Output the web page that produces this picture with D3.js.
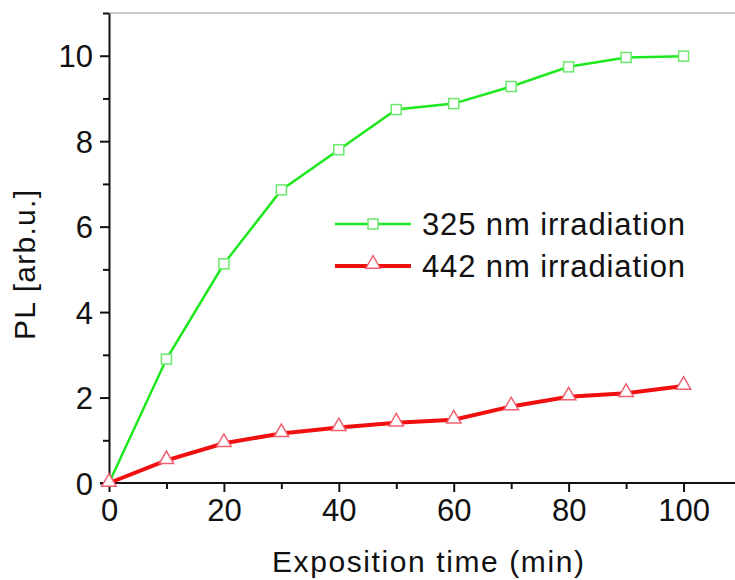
<!DOCTYPE html>
<html lang="en">
<head>
    <meta charset="UTF-8">
    <title>PL vs exposition time</title>
    <script src="https://d3js.org/d3.v7.min.js"></script>
    <style>
        body { margin: 0; background: #fff; }
        text { font-family: "Liberation Sans", Arial, sans-serif; fill: #111; }
        .axis path, .axis line { stroke: #111; stroke-width: 2; }
    </style>
</head>
<body>
    <svg width="735" height="580"></svg>

    <script>
        // data
        const times = [0, 10, 20, 30, 40, 50, 60, 70, 80, 90, 100];
        const pl325 = [0, 2.9, 5.13, 6.86, 7.8, 8.74, 8.88, 9.28, 9.74, 9.96, 9.99];
        const pl442 = [0, 0.53, 0.93, 1.16, 1.3, 1.41, 1.48, 1.79, 2.02, 2.1, 2.27];
        const xTicks = [0, 20, 40, 60, 80, 100];
        const yTicks = [0, 2, 4, 6, 8, 10];
        const seriesNames = ["325 nm irradiation", "442 nm irradiation"];

        const svg = d3.select("svg");
        const margin = {top: 13, right: 0, bottom: 97, left: 109};
        const width = 741 - margin.left;
        const height = +svg.attr("height") - margin.top - margin.bottom;

        const x = d3.scaleLinear().domain([0, 110]).range([0, width]);
        const y = d3.scaleLinear().domain([0, 11]).range([height, 0]);

        const g = svg.append("g")
            .attr("transform", `translate(${margin.left},${margin.top})`);

        // gray frame line on top
        g.append("line")
            .attr("x1", 0).attr("x2", width)
            .attr("y1", 0).attr("y2", 0)
            .attr("stroke", "#c8c8c8").attr("stroke-width", 2);

        // minor ticks
        const xMinor = d3.range(10, 111, 20);
        const yMinor = d3.range(1, 12, 2);
        g.append("g").attr("class", "axis")
            .attr("transform", `translate(0,${height})`)
            .call(d3.axisBottom(x).tickValues(xMinor).tickSize(6).tickFormat(""))
            .call(s => s.select(".domain").remove());
        g.append("g").attr("class", "axis")
            .call(d3.axisLeft(y).tickValues(yMinor).tickSize(6).tickFormat(""))
            .call(s => s.select(".domain").remove());

        // major axes
        const xAxis = g.append("g").attr("class", "axis")
            .attr("transform", `translate(0,${height})`)
            .call(d3.axisBottom(x).tickValues(xTicks).tickSize(9).tickSizeOuter(0).tickPadding(7));
        const yAxis = g.append("g").attr("class", "axis")
            .call(d3.axisLeft(y).tickValues(yTicks).tickSize(9).tickSizeOuter(0).tickPadding(7));
        xAxis.selectAll("text").style("font-size", "31px").attr("fill", "#111");
        yAxis.selectAll("text").style("font-size", "31px").attr("fill", "#111").attr("dy", "0.36em");
        xAxis.select(".domain").attr("d", `M${-9},0H${width}`);

        const line = d3.line().x((d, i) => x(times[i])).y(d => y(d));

        // 325 nm series
        g.append("path").datum(pl325)
            .attr("d", line)
            .attr("fill", "none").attr("stroke", "#1ee81e").attr("stroke-width", 2.5);
        g.selectAll(".sq").data(pl325.slice(1)).enter().append("rect")
            .attr("class", "sq")
            .attr("x", (d, i) => x(times[i + 1]) - 5)
            .attr("y", d => y(d) - 5)
            .attr("width", 10).attr("height", 10)
            .attr("fill", "#fff").attr("stroke", "#6be86b").attr("stroke-width", 1.5);

        // 442 nm series
        const tri = d3.symbol().type(d3.symbolTriangle).size(90);
        g.append("path").datum(pl442)
            .attr("d", line)
            .attr("fill", "none").attr("stroke", "#f01010").attr("stroke-width", 4);
        g.selectAll(".tri").data(pl442).enter().append("path")
            .attr("class", "tri")
            .attr("d", tri)
            .attr("transform", (d, i) => `translate(${x(times[i])},${y(d) - 1})`)
            .attr("fill", "#fff").attr("stroke", "#f06070").attr("stroke-width", 1.5);

        // axis titles
        svg.append("text")
            .attr("x", 428).attr("y", 572)
            .attr("text-anchor", "middle")
            .style("font-size", "30px")
            .attr("textLength", 312)
            .text("Exposition time (min)");
        svg.append("text")
            .attr("transform", "translate(35,265) rotate(-90)")
            .attr("text-anchor", "middle")
            .style("font-size", "30px")
            .attr("textLength", 150)
            .text("PL [arb.u.]");

        // legend
        const legend = svg.append("g").attr("transform", "translate(335,224)");
        const legendRows = [
            {name: seriesNames[0], color: "#1ee81e", mk: "#6be86b", w: 2.5, sym: "sq"},
            {name: seriesNames[1], color: "#f01010", mk: "#f06070", w: 4, sym: "tri"}
        ];
        legendRows.forEach((r, i) => {
            const row = legend.append("g").attr("transform", `translate(0,${i * 42})`);
            row.append("line").attr("x1", 0).attr("x2", 76)
                .attr("stroke", r.color).attr("stroke-width", r.w);
            if (r.sym === "sq") {
                row.append("rect").attr("x", 33).attr("y", -5).attr("width", 10).attr("height", 10)
                    .attr("fill", "#fff").attr("stroke", r.mk).attr("stroke-width", 1.5);
            } else {
                row.append("path").attr("d", tri).attr("transform", "translate(38,-2)")
                    .attr("fill", "#fff").attr("stroke", r.mk).attr("stroke-width", 1.5);
            }
            row.append("text").attr("x", 87).attr("y", 11)
                .style("font-size", "31px")
                .attr("textLength", 263)
                .text(r.name);
        });
    </script>
</body>
</html>
